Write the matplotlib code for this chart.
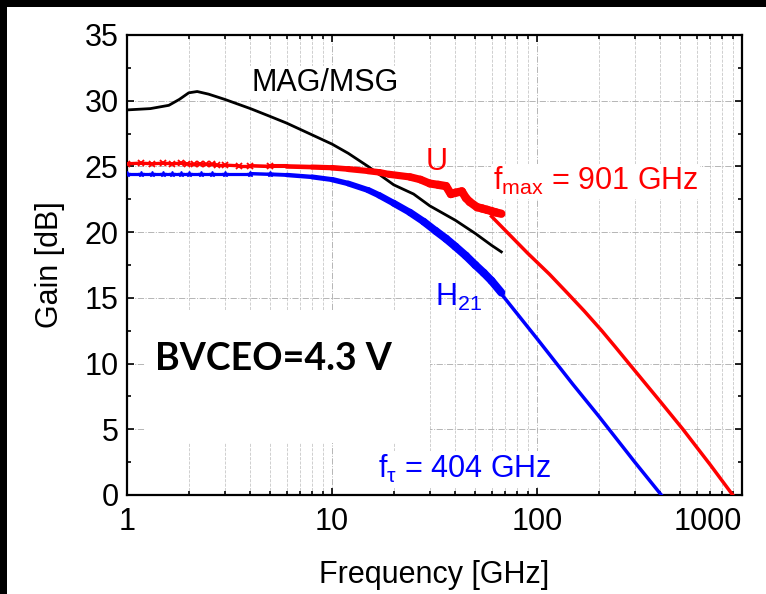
import numpy as np
import matplotlib
matplotlib.use("Agg")
import matplotlib.pyplot as plt
from matplotlib import font_manager
from matplotlib.collections import LineCollection
from matplotlib.patches import Rectangle

mag_freq = [1, 1.3, 1.6, 1.8, 2.0, 2.2, 2.5, 3, 4, 5, 6, 8, 10, 12, 15, 20, 25, 30, 40, 50, 60, 67]
mag_gain = [29.3, 29.4, 29.65, 30.1, 30.6, 30.7, 30.5, 30.1, 29.4, 28.8, 28.3, 27.4, 26.7, 26.0,
            25.0, 23.6, 22.9, 22.0, 20.9, 19.9, 19.0, 18.5]

u_freq = [1.0, 1.17, 1.33, 1.5, 1.66, 1.83, 1.96, 2.12, 2.27, 2.43, 2.6, 2.76, 3.0, 3.5, 4, 5, 6, 8,
          10, 12, 15, 17, 19, 24, 27, 30, 33, 36, 38, 40, 43, 45, 47, 51, 54, 57, 60, 63, 67]
u_gain = [25.2, 25.25, 25.2, 25.25, 25.2, 25.25, 25.2, 25.15, 25.2, 25.15, 25.15, 25.1, 25.1, 25.05,
          25.05, 25.0, 25.0, 24.95, 24.9, 24.8, 24.65, 24.55, 24.4, 24.2, 24.0, 23.7, 23.6, 23.5,
          22.9, 23.0, 23.1, 22.6, 22.3, 21.9, 21.8, 21.7, 21.6, 21.5, 21.4]

h21_freq = [1.0, 1.17, 1.33, 1.5, 1.66, 1.83, 2.0, 2.3, 2.6, 3, 4, 5, 6, 8, 10, 12, 15, 17, 20, 24,
            28, 32, 36, 40, 45, 50, 55, 60, 67]
h21_gain = [24.45, 24.45, 24.45, 24.45, 24.45, 24.45, 24.45, 24.45, 24.45, 24.45, 24.45, 24.4,
            24.35, 24.2, 24.0, 23.7, 23.2, 22.8, 22.2, 21.5, 20.8, 20.1, 19.5, 18.9, 18.2, 17.5,
            16.9, 16.3, 15.4]

# extrapolated lines
u_ext_freq = [60, 90, 115, 140, 170, 207, 240, 281, 400, 515, 700, 901]
u_ext_gain = [21.2, 18.4, 16.8, 15.4, 14.0, 12.5, 11.3, 10.0, 7.1, 5.0, 2.3, 0.0]
h21_ext_freq = [67, 100, 150, 200, 300, 404]
h21_ext_gain = [15.3, 11.9, 8.4, 6.0, 2.5, 0.0]

xticks = [1, 10, 100, 1000]
xticklabels = ["1", "10", "100", "1000"]
yticks = [0, 5, 10, 15, 20, 25, 30, 35]

names = {f.name for f in font_manager.fontManager.ttflist}
narrow = "Liberation Sans Narrow" if "Liberation Sans Narrow" in names else "Liberation Sans"
plt.rcParams["font.family"] = [narrow, "DejaVu Sans"]
FS = 22

RED = "#ff0000"
BLUE = "#0000ff"


def band(ax, f, g, color, w_lo, w_hi, z):
    # measured trace gets thicker where the points crowd together
    f = np.asarray(f, float)
    g = np.asarray(g, float)
    pts = np.column_stack([f, g])
    segs = np.stack([pts[:-1], pts[1:]], axis=1)
    mid = np.log10(np.sqrt(f[:-1] * f[1:]))
    w = np.interp(mid, [np.log10(4), np.log10(35)], [w_lo, w_hi])
    lc = LineCollection(segs, colors=color, linewidths=w, capstyle="round",
                        joinstyle="round", zorder=z)
    ax.add_collection(lc)


fig = plt.figure(figsize=(7.66, 5.94), dpi=100)
ax = fig.add_axes([127 / 766, 99 / 594, 615 / 766, 460 / 594])
ax.set_xscale("log")
ax.set_xlim(1, 1000)
ax.set_ylim(0, 35)

ax.grid(True, which="major", axis="both", color="#b5b5b5", ls="-.", lw=0.7)
ax.grid(True, which="minor", axis="x", color="#c8c8c8", ls="--", lw=0.6)

# white patch behind the BVCEO note
ax.add_patch(Rectangle((1.22, 3.96), 30.1 - 1.22, 14.1 - 3.96, facecolor="white",
                       edgecolor="none", zorder=1.6))

ax.plot(mag_freq, mag_gain, color="black", lw=2.0, zorder=3)

band(ax, h21_freq, h21_gain, BLUE, 2.3, 5.8, 3)
ax.plot(h21_freq[:12], h21_gain[:12], ls="none", marker="*", ms=4, color=BLUE, zorder=3)
ax.plot(h21_ext_freq, h21_ext_gain, color=BLUE, lw=2.5, zorder=3)

band(ax, u_freq, u_gain, RED, 2.4, 6.0, 3)
ax.plot(u_freq[:16], u_gain[:16], ls="none", marker="x", ms=5, mew=1.3, color=RED, zorder=3)
ax.plot(u_ext_freq, u_ext_gain, color=RED, lw=2.5, zorder=3)

ax.set_xticks(xticks)
ax.set_xticklabels(xticklabels)
ax.get_xticklabels()[-1].set_horizontalalignment("right")
ax.set_yticks(yticks)
ax.set_yticks(np.arange(0, 35, 2.5), minor=True)
ax.tick_params(which="both", direction="in", top=True, right=True, width=1.2)
ax.tick_params(which="major", length=5, labelsize=FS)
ax.tick_params(which="minor", length=3)
ax.tick_params(axis="x", pad=9)
ax.tick_params(axis="y", pad=6)
for s in ax.spines.values():
    s.set_linewidth(1.6)

ax.set_xlabel("Frequency [GHz]", fontsize=FS, labelpad=16)
ax.set_ylabel("Gain [dB]", fontsize=FS, labelpad=14)

box = dict(facecolor="white", edgecolor="none", pad=1)
ax.text(9.25, 31.35, "MAG/MSG", fontsize=FS, ha="center", va="center", bbox=box, zorder=4)
ax.text(32.5, 25.3, "U", fontsize=FS, color=RED, ha="center", va="center", zorder=4)
ax.text(61, 23.2, r"$\mathregular{f_{max}}$ = 901 GHz", fontsize=FS, color=RED,
        ha="left", va="baseline", bbox=box, zorder=4)
ax.text(31.8, 14.4, r"$\mathregular{H_{21}}$", fontsize=FS, color=BLUE, ha="left",
        va="baseline", zorder=4)
ax.text(16.8, 1.3, r"$\mathregular{f_{τ}}$ = 404 GHz", fontsize=FS, color=BLUE,
        ha="left", va="baseline", bbox=box, zorder=4)
ax.text(1.37, 9.5, "BVCEO=4.3 V", fontsize=27, fontweight="bold", family=["Lato", "DejaVu Sans"],
        ha="left", va="baseline", zorder=4)

# black frame strips along the top and left edges
fig.add_artist(Rectangle((0, 1 - 7 / 594), 1, 7 / 594, transform=fig.transFigure,
                         facecolor="black", edgecolor="none"))
fig.add_artist(Rectangle((0, 0), 7 / 766, 1, transform=fig.transFigure,
                         facecolor="black", edgecolor="none"))

fig.savefig("out.png", dpi=100)
